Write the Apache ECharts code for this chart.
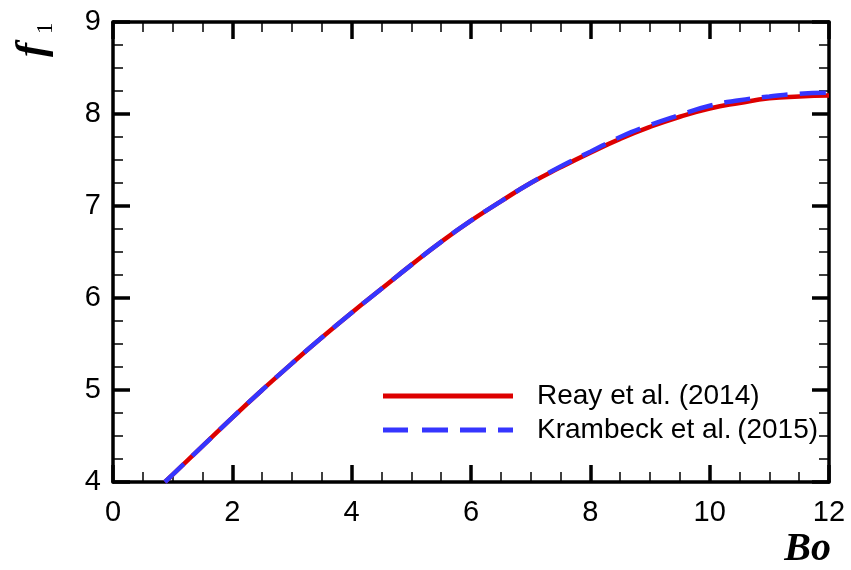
<!DOCTYPE html>
<html>
<head>
<meta charset="utf-8">
<script src="https://cdn.jsdelivr.net/npm/echarts@6/dist/echarts.min.js"></script>
<style>html,body{margin:0;padding:0;background:#fff}#c{width:851px;height:570px}</style>
</head>
<body>
<div id="c"></div>
<script>
// Data
var boValues = [0.87, 1, 1.5, 2, 2.5, 3, 3.5, 4, 4.5, 5, 5.5, 6, 6.5, 7, 7.5, 8, 8.5, 9, 9.5, 10, 10.5, 11, 11.5, 12];
var reay2014 = [4.00, 4.08, 4.39, 4.70, 5.00, 5.29, 5.57, 5.84, 6.10, 6.36, 6.61, 6.84, 7.05, 7.25, 7.42, 7.58, 7.73, 7.86, 7.97, 8.06, 8.12, 8.17, 8.19, 8.20];
var krambeck2015 = [4.00, 4.08, 4.39, 4.70, 5.00, 5.29, 5.57, 5.84, 6.10, 6.36, 6.61, 6.84, 7.05, 7.25, 7.43, 7.59, 7.75, 7.88, 7.99, 8.09, 8.15, 8.19, 8.22, 8.23];
var seriesNames = ['Reay et al. (2014)', 'Krambeck et al.\u2009(2015)'];
var xTicks = {min: 0, max: 12, interval: 2};
var yTicks = {min: 4, max: 9, interval: 1};

function pairs(xs, ys) { return xs.map(function (x, i) { return [x, ys[i]]; }); }

var axisCommon = {
  axisLine: {show: true, onZero: false, lineStyle: {color: '#000', width: 3.5}},
  axisTick: {show: true, inside: true, length: 17, lineStyle: {color: '#000', width: 3.5}},
  minorTick: {show: true, splitNumber: 4, length: 10, lineStyle: {color: '#000', width: 1.5}},
  splitLine: {show: false},
  minorSplitLine: {show: false}
};
function ax(extra) { return Object.assign({}, JSON.parse(JSON.stringify(axisCommon)), extra); }

var labelFont = {color: '#000', fontSize: 29, fontFamily: 'Liberation Sans, Arial, sans-serif'};
var serif = 'Liberation Serif, Times New Roman, serif';

var chart = echarts.init(document.getElementById('c'), null, {renderer: 'canvas'});
chart.setOption({
  animation: false,
  backgroundColor: '#fff',
  grid: {left: 113, right: 22, top: 22, bottom: 88, containLabel: false},
  xAxis: [
    ax({type: 'value', position: 'bottom', min: xTicks.min, max: xTicks.max, interval: xTicks.interval,
        axisLabel: Object.assign({margin: 16}, labelFont)}),
    ax({type: 'value', position: 'top', min: xTicks.min, max: xTicks.max, interval: xTicks.interval,
        axisLabel: {show: false}})
  ],
  yAxis: [
    ax({type: 'value', position: 'left', min: yTicks.min, max: yTicks.max, interval: yTicks.interval,
        axisLabel: Object.assign({margin: 12}, labelFont)}),
    ax({type: 'value', position: 'right', min: yTicks.min, max: yTicks.max, interval: yTicks.interval,
        axisLabel: {show: false}})
  ],
  legend: {
    orient: 'vertical', left: 378, top: 377, padding: 5,
    itemWidth: 130, itemHeight: 5, itemGap: 6, symbolKeepAspect: false,
    textStyle: {color: '#000', fontSize: 28, fontFamily: 'Liberation Sans, Arial, sans-serif', padding: [0, 0, 0, 19]},
    data: [
      {name: seriesNames[0], icon: 'path://M0,0H130V5H0Z'},
      {name: seriesNames[1], icon: 'path://M0,0H25V5H0Z M39,0H65V5H39Z M77,0H103V5H77Z M115,0H130V5H115Z'}
    ]
  },
  series: [
    {name: seriesNames[0], type: 'line', data: pairs(boValues, reay2014), symbol: 'none', smooth: true,
     lineStyle: {color: '#dd0000', width: 4.5}, itemStyle: {color: '#dd0000'}, z: 2},
    {name: seriesNames[1], type: 'line', data: pairs(boValues, krambeck2015), symbol: 'none', smooth: true,
     lineStyle: {color: '#3535ff', width: 4.5, type: [26, 12]}, itemStyle: {color: '#3535ff'}, z: 3}
  ],
  graphic: [
    {type: 'text', x: 33, y: 57, rotation: Math.PI / 2,
     style: {text: 'f', textAlign: 'left', textVerticalAlign: 'middle', fontSize: 42, fontWeight: 'bold',
       fontStyle: 'italic', fontFamily: serif, fill: '#000'}},
    {type: 'text', x: 46, y: 34, rotation: Math.PI / 2,
     style: {text: '1', textAlign: 'left', textVerticalAlign: 'middle', fontSize: 23,
       fontFamily: serif, fill: '#000'}},
    {type: 'text', x: 831, y: 550,
     style: {text: 'Bo', textAlign: 'right', textVerticalAlign: 'middle', fontSize: 40, fontWeight: 'bold', fontStyle: 'italic',
       fontFamily: serif, fill: '#000'}}
  ]
});
</script>
</body>
</html>
